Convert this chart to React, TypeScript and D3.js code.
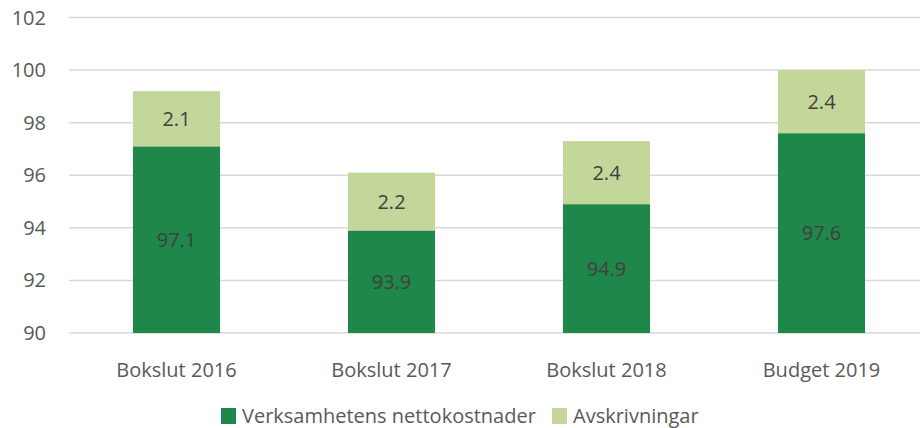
import * as d3 from 'd3';
import { useEffect } from 'react';

const categories = ['Bokslut 2016', 'Bokslut 2017', 'Bokslut 2018', 'Budget 2019'];
const netto = [97.1, 93.9, 94.9, 97.6];
const avskr = [2.1, 2.2, 2.4, 2.4];
const yTicks = [90, 92, 94, 96, 98, 100, 102];
const seriesNames = ['Verksamhetens nettokostnader', 'Avskrivningar'];
const colors = ['#1e8749', '#c4d79b'];

const width = 920;
const height = 428;
const font = '"Open Sans", sans-serif';
const fs = 20;

const x = d3
  .scaleBand<string>()
  .domain(categories)
  .range([69, 929])
  .paddingInner(0.595)
  .paddingOuter(0.2975);
const y = d3.scaleLinear().domain([90, 102]).range([333, 17.5]);

export default function App() {
  useEffect(() => {
    document.body.style.margin = '0';
  }, []);

  const fmt = d3.format('.1f');

  return (
    <svg width={width} height={height} style={{ display: 'block', fontFamily: font }}>
      <g className="grid">
        {yTicks.map((t) => (
          <line key={t} x1={69} x2={width} y1={y(t)} y2={y(t)} stroke="#d9d9d9" strokeWidth={1.5} />
        ))}
      </g>
      <g className="yticks">
        {yTicks.map((t) => (
          <text key={t} x={46} y={y(t)} dy="0.35em" textAnchor="end" fontSize={fs} fill="#595959">
            {t}
          </text>
        ))}
      </g>
      <g className="bars">
        {categories.map((c, i) => {
          const x0 = x(c)!;
          const bw = x.bandwidth();
          const top1 = netto[i];
          const top2 = netto[i] + avskr[i];
          return (
            <g key={c}>
              <rect x={x0} width={bw} y={y(top1)} height={y(90) - y(top1)} fill={colors[0]} />
              <rect x={x0} width={bw} y={y(top2)} height={y(top1) - y(top2)} fill={colors[1]} />
              <text x={x0 + bw / 2} y={y((90 + top1) / 2)} dy="0.35em" textAnchor="middle" fontSize={fs} fill="#404040">
                {fmt(netto[i])}
              </text>
              <text x={x0 + bw / 2} y={y((top1 + top2) / 2)} dy="0.35em" textAnchor="middle" fontSize={fs} fill="#404040">
                {fmt(avskr[i])}
              </text>
              <text x={x0 + bw / 2} y={370} dy="0.35em" textAnchor="middle" fontSize={fs} fill="#595959">
                {c}
              </text>
            </g>
          );
        })}
      </g>
      <g className="legend">
        {seriesNames.map((s, i) => {
          const lx = [221, 552][i];
          return (
            <g key={s}>
              <rect x={lx} y={408} width={15} height={16} fill={colors[i]} />
              <text x={lx + 21} y={416} dy="0.35em" fontSize={fs} fill="#595959">
                {s}
              </text>
            </g>
          );
        })}
      </g>
    </svg>
  );
}
